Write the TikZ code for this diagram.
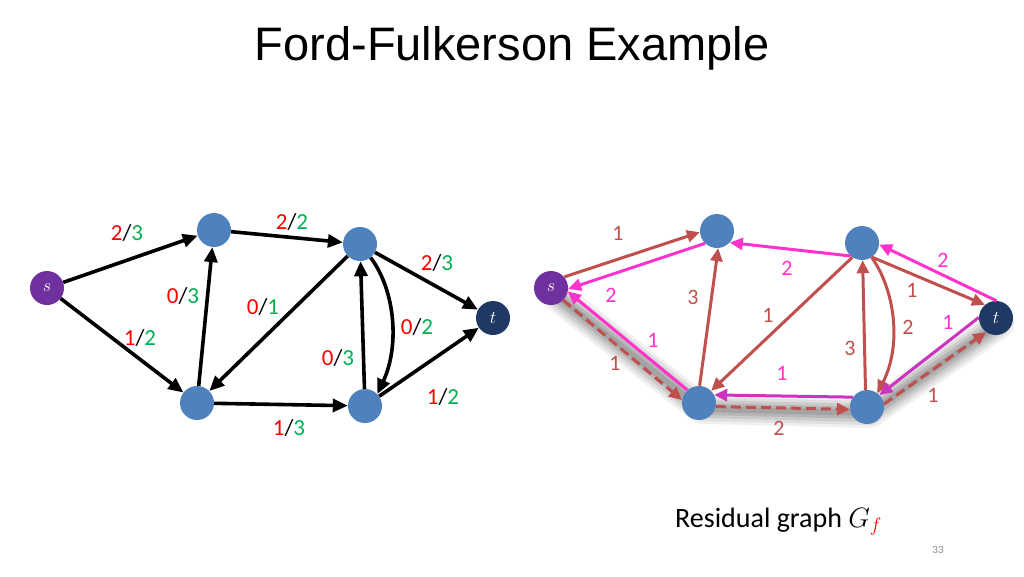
\RequirePackage{fix-cm}
\documentclass[tikz,border=0pt]{standalone}
\usepackage{fontspec}
\setmainfont{Carlito}
\newfontfamily\titlefont{Liberation Sans}
\usetikzlibrary{arrows.meta,backgrounds}
\definecolor{nodeblue}{RGB}{79,129,189}
\definecolor{spurple}{RGB}{112,48,160}
\definecolor{tnavy}{RGB}{31,56,100}
\definecolor{fred}{RGB}{255,0,0}
\definecolor{fgreen}{RGB}{0,176,80}
\definecolor{rbrown}{RGB}{192,80,77}
\definecolor{rmag}{RGB}{255,51,204}
\definecolor{dmag}{RGB}{204,51,190}
\newcommand\flowlab[2]{\textcolor{fred}{#1}/\textcolor{fgreen}{#2}}
\begin{document}
\begin{tikzpicture}[x=1pt,y=-1pt,
  vtx/.style={circle,fill=nodeblue,minimum size=34pt,inner sep=0pt,text=white,font=\fontsize{18}{18}\selectfont},
  srcv/.style={vtx,fill=spurple},
  snkv/.style={vtx,fill=tnavy},
  blk/.style={line width=3.6pt,-{Triangle[length=15pt,width=13pt]}},
  brn/.style={draw=rbrown,line width=3pt,-{Triangle[length=13pt,width=12pt]}},
  mag/.style={draw=rmag,line width=3pt,-{Triangle[length=13pt,width=12pt]}},
  dmg/.style={draw=dmag,line width=3pt,-{Triangle[length=13pt,width=12pt]}},
  dsh/.style={brn,dash pattern=on 10pt off 5pt},
  flab/.style={inner sep=0pt,font=\fontsize{23}{23}\selectfont},
  blab/.style={inner sep=0pt,text=rbrown,font=\fontsize{22}{22}\selectfont},
  mlab/.style={inner sep=0pt,text=rmag,font=\fontsize{22}{22}\selectfont},
  shd/.style={line cap=round,line join=round,draw=black}
]
\useasboundingbox (0,0) rectangle (1024,576);

% title
\node[inner sep=0pt,font=\titlefont\fontsize{47}{50}\selectfont] (title) at (512,48) {Ford-Fulkerson Example};

% ---------- left graph ----------
\node[srcv] (s1) at (47,288) {$s$};
\node[vtx] (a1) at (214,230) {};
\node[vtx] (b1) at (360,244) {};
\node[vtx] (c1) at (197,403) {};
\node[vtx] (d1) at (365,406) {};
\node[snkv] (t1) at (493,318) {$t$};

\draw[blk] (s1) -- (a1);
\draw[blk] (s1) -- (c1);
\draw[blk] (a1) -- (b1);
\draw[blk] (c1) -- (a1);
\draw[blk] (b1) -- (c1);
\draw[blk] (c1) -- (d1);
\draw[blk] (d1) -- (b1);
\draw[blk] (b1.-52) .. controls (395,290) and (400,345) .. (d1.44);
\draw[blk] (b1) -- (t1);
\draw[blk] (d1) -- (t1);

\node[flab] (l1) at (127,233) {\flowlab{2}{3}};
\node[flab] (l2) at (140,338) {\flowlab{1}{2}};
\node[flab] (l3) at (183,296) {\flowlab{0}{3}};
\node[flab] (l4) at (292,222) {\flowlab{2}{2}};
\node[flab] (l5) at (263,307) {\flowlab{0}{1}};
\node[flab] (l6) at (289,428) {\flowlab{1}{3}};
\node[flab] (l7) at (338,358) {\flowlab{0}{3}};
\node[flab] (l8) at (417,327) {\flowlab{0}{2}};
\node[flab] (l9) at (437,263) {\flowlab{2}{3}};
\node[flab] (l10) at (443,397) {\flowlab{1}{2}};

% ---------- right graph ----------
\node[srcv] (s2) at (551,288) {$s$};
\node[vtx] (a2) at (717,231) {};
\node[vtx] (b2) at (862,243) {};
\node[vtx] (c2) at (699,403) {};
\node[vtx] (d2) at (867,407) {};
\node[snkv] (t2) at (996,318) {$t$};

\begin{pgfonlayer}{background}
\foreach \w/\o in {30/0.06,24/0.07,18/0.09,12/0.1,6/0.1}{
  \draw[shd,line width=\w pt,opacity=\o]
    ([shift={(3,6)}]s2.center) -- ([shift={(3,6)}]c2.center)
    -- ([shift={(3,6)}]d2.center) -- ([shift={(3,6)}]t2.center);
}
\end{pgfonlayer}

\draw[brn] (s2.40) -- (a2.184);
\draw[mag] (a2.226) -- (s2.-3);
\draw[dsh] (s2.-45) -- (c2.170);
\draw[mag] (c2.132) -- (s2.-12);
\draw[brn] (c2.88) -- (a2.-86);
\draw[mag] (b2.229) -- (a2.-42);
\draw[brn] (b2.236) -- (c2.45);
\draw[dsh] (c2.-12) -- (d2.188);
\draw[dmg] (d2.145) -- (c2.28);
\draw[brn] (d2.95) -- (b2.-88);
\draw[brn] (b2.-56) .. controls (895,290) and (902,345) .. (d2.53);
\draw[brn] (b2.-55) -- (t2.130);
\draw[mag] (t2.88) -- (b2.-5);
\draw[dsh] (d2.10) -- (t2.235);
\draw[dmg] (t2.178) -- (d2.44);

\node[blab] (r1) at (618,233) {1};
\node[mlab] (r2) at (611,295) {2};
\node[blab] (r3) at (693,297) {3};
\node[mlab] (r4) at (653,340) {1};
\node[blab] (r5) at (615,363) {1};
\node[mlab] (r6) at (787,268) {2};
\node[blab] (r7) at (768,315) {1};
\node[blab] (r8) at (912,290) {1};
\node[mlab] (r9) at (943,260) {2};
\node[blab] (r10) at (908,327) {2};
\node[mlab] (r11) at (948,322) {1};
\node[blab] (r12) at (850,348) {3};
\node[mlab] (r13) at (782,373) {1};
\node[blab] (r14) at (933,395) {1};
\node[blab] (r15) at (779,428) {2};

% captions
\node[inner sep=0pt,anchor=base west,font=\fontsize{28}{30}\selectfont] (cap) at (675,527) {Residual graph $G_{\color{fred}f}$};
\node[inner sep=0pt,text=black!45,font=\fontsize{11}{12}\selectfont] (pg) at (938,550) {33};
\end{tikzpicture}
\end{document}
